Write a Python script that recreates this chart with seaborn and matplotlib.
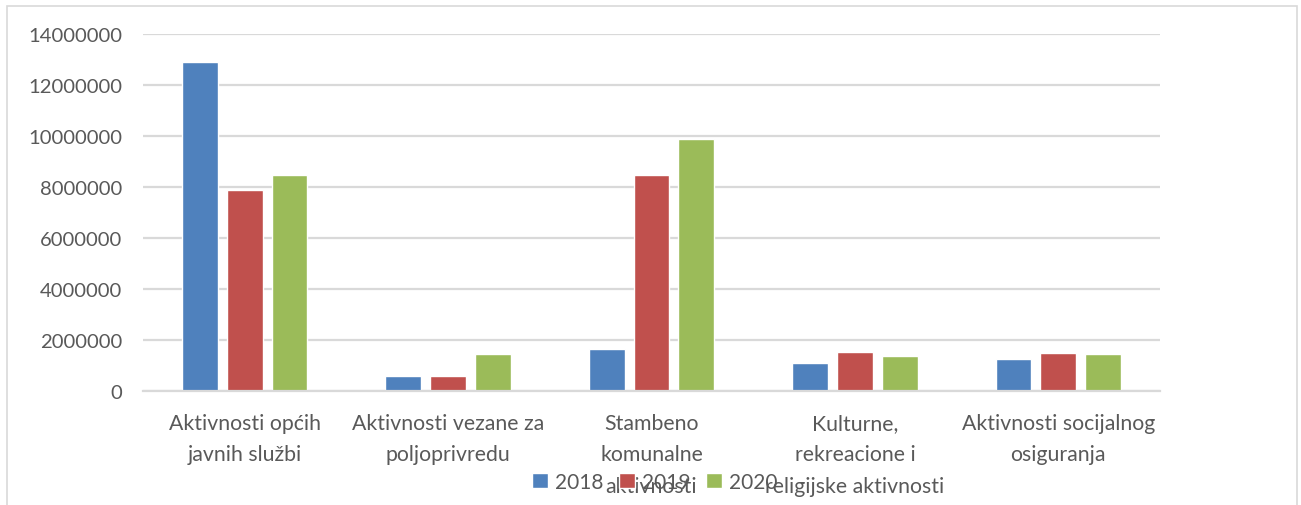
import matplotlib
matplotlib.use("Agg")
import matplotlib.pyplot as plt
import matplotlib.ticker as mticker
from matplotlib.patches import Rectangle
import seaborn as sns
import pandas as pd

categories = [
    "Aktivnosti općih\njavnih službi",
    "Aktivnosti vezane za\npoljoprivredu",
    "Stambeno\nkomunalne\naktivnosti",
    "Kulturne,\nrekreacione i\nreligijske aktivnosti",
    "Aktivnosti socijalnog\nosiguranja",
]
years = ["2018", "2019", "2020"]
values_2018 = [12900000, 570000, 1640000, 1110000, 1270000]
values_2019 = [7900000, 590000, 8480000, 1520000, 1490000]
values_2020 = [8480000, 1440000, 9880000, 1370000, 1450000]
yticks = [0, 2000000, 4000000, 6000000, 8000000, 10000000, 12000000, 14000000]

rows = []
for yr, vals in zip(years, [values_2018, values_2019, values_2020]):
    for c, v in zip(categories, vals):
        rows.append({"cat": c, "year": yr, "value": v})
df = pd.DataFrame(rows)

sns.set_theme(style="white")
plt.rcParams['font.family'] = ['Lato', 'DejaVu Sans']
text_color = "#595959"
grid_color = "#d9d9d9"
palette = {"2018": "#4f81bd", "2019": "#c0504d", "2020": "#9bbb59"}

fig = plt.figure(figsize=(13.01, 5.06), dpi=100)
ax = fig.add_axes([143/1301, 1-392/506, (1160-143)/1301, (392-35)/506])

sns.barplot(data=df, x="cat", y="value", hue="year", order=categories,
            hue_order=years, palette=palette, width=0.66, gap=0.2,
            saturation=1, ax=ax, legend=True)

ax.set_ylim(0, 14000000)
ax.set_yticks(yticks)
ax.yaxis.set_major_formatter(mticker.FuncFormatter(lambda v, p: f"{int(v)}"))
ax.set_xlim(-0.5, len(categories) - 0.5)
ax.set_xlabel("")
ax.set_ylabel("")
ax.yaxis.grid(True, color=grid_color, linewidth=1.6)
ax.set_axisbelow(True)
for s in ["top", "right", "left"]:
    ax.spines[s].set_visible(False)
ax.spines["bottom"].set_color(grid_color)
ax.spines["bottom"].set_linewidth(1.6)
ax.tick_params(axis="y", length=0, pad=15, labelsize=14.6, labelcolor=text_color)
ax.tick_params(axis="x", length=0, pad=16, labelsize=15.3, labelcolor=text_color)
for lbl in ax.get_xticklabels():
    lbl.set_linespacing(1.7)

handles, labels = ax.get_legend_handles_labels()
ax.get_legend().remove()
fig.legend(handles, labels, loc="center", bbox_to_anchor=(655/1301, 1-483/506),
           ncol=3, frameon=False, fontsize=15, labelcolor=text_color,
           handlelength=0.75, handleheight=0.75, handletextpad=0.35,
           columnspacing=0.75, borderaxespad=0)

fig.patches.append(Rectangle((7/1301, -0.02), (1297-7)/1301, 1.02-7/506,
                             transform=fig.transFigure, fill=False,
                             edgecolor=grid_color, linewidth=1.2))

fig.savefig("out.png", dpi=100)
